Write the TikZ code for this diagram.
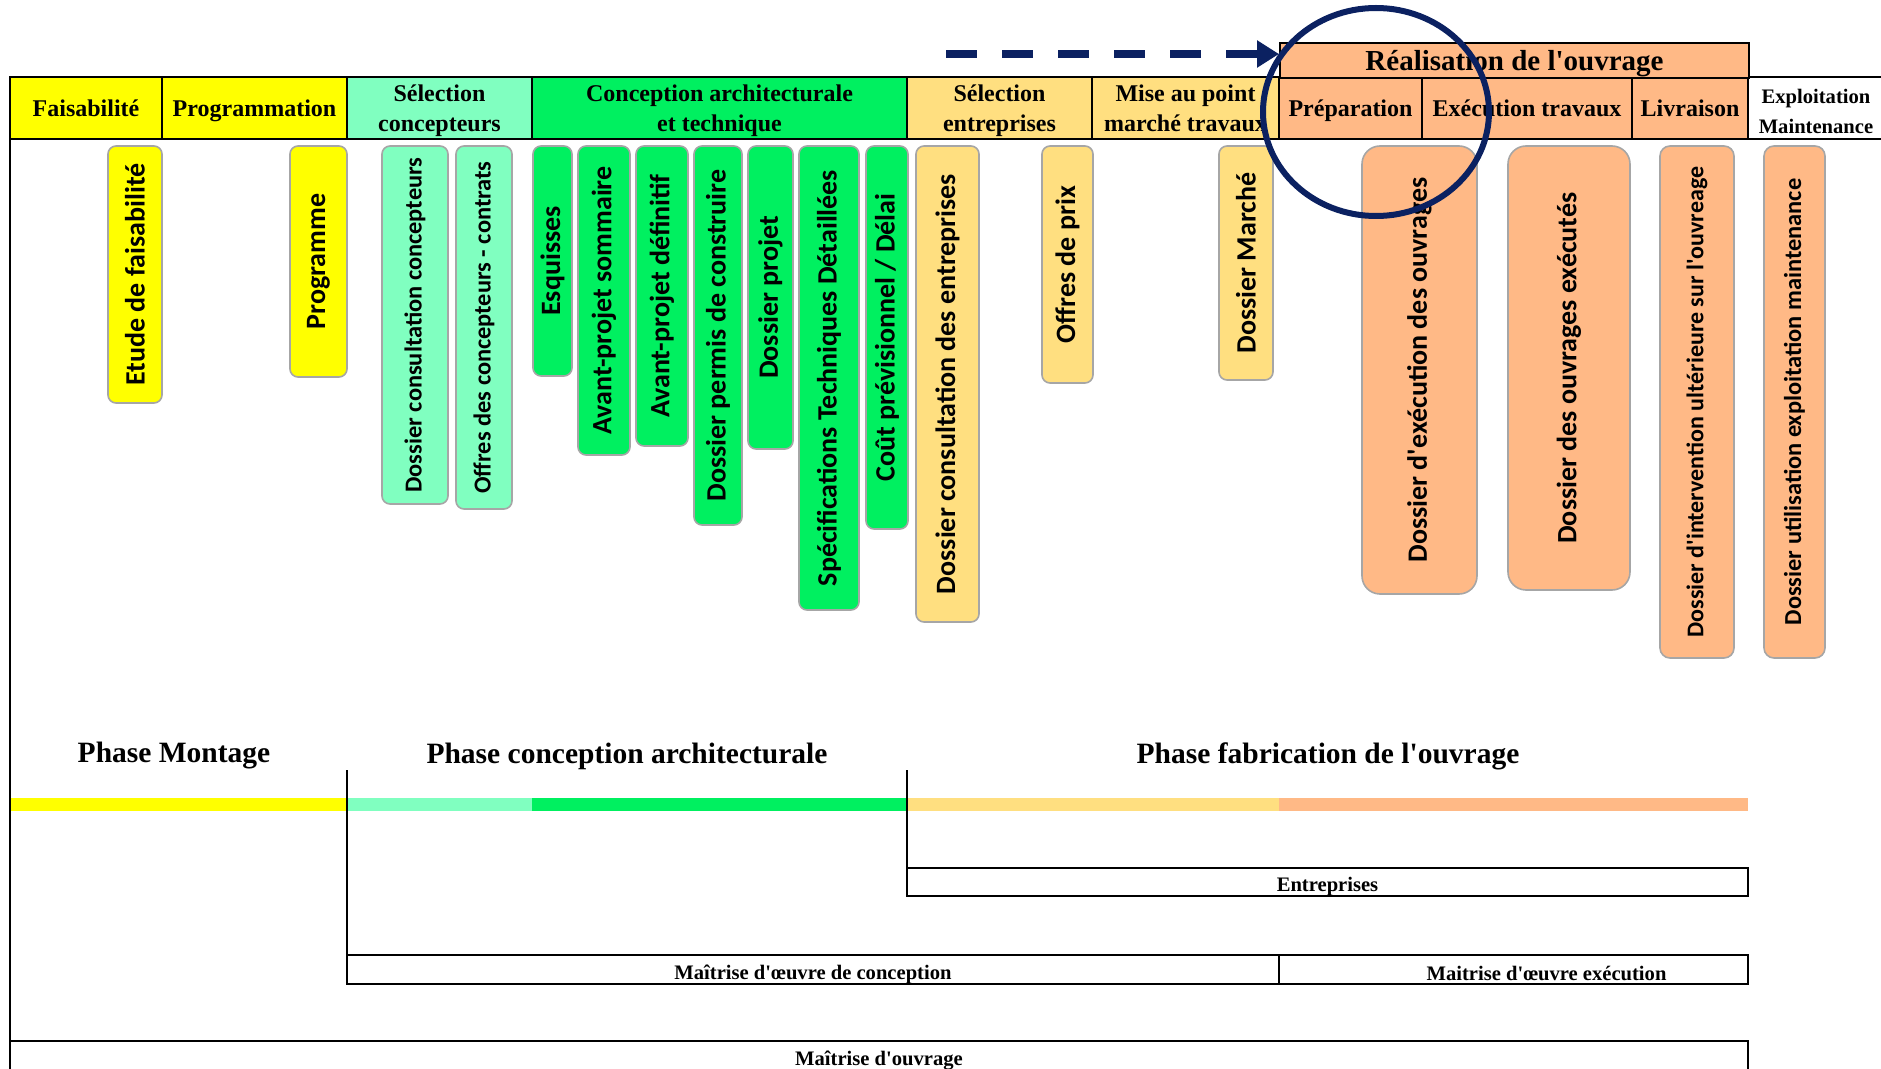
\documentclass[tikz,border=0pt]{standalone}
\usepackage{fontspec}
\setmainfont{Liberation Serif}
\newfontfamily\docfont{Carlito}
\usetikzlibrary{arrows.meta}

\definecolor{jaune}{HTML}{FFFF00}
\definecolor{vertclair}{HTML}{80FFC0}
\definecolor{vert}{HTML}{00F060}
\definecolor{beige}{HTML}{FFDF80}
\definecolor{saumon}{HTML}{FFB986}
\definecolor{marine}{HTML}{0B2161}
\definecolor{gristrait}{HTML}{A6A6A6}
\newcommand{\apo}{\textquotesingle}

\begin{document}
\begin{tikzpicture}[x=0.5pt, y=-0.5pt,
        cellule/.style={draw=black, line width=1pt},
        entete/.style={font=\bfseries\fontsize{12}{15}\selectfont, align=center, text depth=0pt},
        doc/.style={draw=gristrait, line width=0.8pt},
        titre/.style={font=\bfseries\fontsize{14.75}{17}\selectfont},
        acteur/.style={font=\bfseries\fontsize{10.3}{15}\selectfont, align=center}]
        \useasboundingbox (0,0) rectangle (1881,1069);
        % en-tête
        \foreach \xa/\xb/\coul/\nom/\texte in {10/162/jaune/faisabilite/Faisabilité,
                162/347/jaune/programmation/Programmation,
                347/532/vertclair/selconc/Sélection\\concepteurs,
                532/907/vert/conception/Conception architecturale\\et technique,
                907/1092/beige/selent/Sélection\\entreprises,
                1092/1279/beige/miseaupoint/Mise au point\\marché travaux,
                1279/1422/saumon/preparation/Préparation,
                1422/1632/saumon/execution/Exécution travaux,
                1632/1748/saumon/livraison/Livraison}
            \draw[cellule, fill=\coul] (\xa,77) rectangle (\xb,139) node[midway, entete] (\nom) {\texte};
        \draw[cellule] (1748,77) rectangle (1884,139) node[midway, acteur, yshift=-1.5pt] (exploitation) {Exploitation\\Maintenance};
        \node[cellule, fill=saumon, entete, font=\bfseries\fontsize{14.5}{15}\selectfont, inner sep=0, anchor=north west,
            minimum width=234.5pt, minimum height=17.5pt] (realisation) at (1279,42) {Réalisation de l\apo ouvrage};
        % documents
        \foreach \xa/\xb/\yb/\coul/\taille/\arrondi/\nom/\texte in {108/162/403/jaune/14/4pt/etude/Etude de faisabilité,
                290/347/377/jaune/14/4pt/programme/Programme,
                382/448/504/vertclair/12.2/4pt/dcc/Dossier consultation concepteurs,
                456/512/509/vertclair/12.2/4pt/offconc/Offres des concepteurs - contrats,
                533/572/376/vert/14/4pt/esquisses/Esquisses,
                578/630/455/vert/14/4pt/aps/Avant-projet sommaire,
                636/688/446/vert/14/4pt/apd/Avant-projet définitif,
                694/742/525/vert/14/4pt/permis/Dossier permis de construire,
                748/793/449/vert/14/4pt/projet/Dossier projet,
                799/859/610/vert/14/4pt/std/Spécifications Techniques Détaillées,
                866/908/529/vert/14/4pt/cout/{Coût prévisionnel / Délai},
                916/979/622/beige/14/4pt/dce/Dossier consultation des entreprises,
                1042/1093/383/beige/14/4pt/offprix/Offres de prix,
                1219/1273/380/beige/14/4pt/marche/Dossier Marché,
                1362/1477/594/saumon/14/9pt/deo/Dossier d\apo exécution des ouvrages,
                1508/1630/590/saumon/14/9pt/doe/Dossier des ouvrages exécutés,
                1660/1734/658/saumon/12/5pt/diuo/Dossier d\apo intervention ultérieure sur l\apo ouvreage,
                1764/1825/658/saumon/12.2/5pt/duem/Dossier utilisation exploitation maintenance}
            \draw[doc, fill=\coul, rounded corners=\arrondi] (\xa,146) rectangle (\xb,\yb)
                node[midway, rotate=90, font=\docfont\bfseries\fontsize{\taille}{\taille}\selectfont] (\nom) {\texte};
        % phases
        \node[titre] (montage) at (174,756) {Phase Montage};
        \node[titre] (concarchi) at (627,756) {Phase conception architecturale};
        \node[titre] (fabrication) at (1328,756) {Phase fabrication de l\apo ouvrage};
        \foreach \xa/\xb/\coul in {10/347/jaune, 347/532/vertclair, 532/907/vert, 907/1279/beige, 1279/1748/saumon}
            \fill[\coul] (\xa,798) rectangle (\xb,811);
        \draw[thick] (347,770) -- (347,955);
        \draw[thick] (907,770) -- (907,868);
        \draw[thick] (10,139) -- (10,1041);
        % intervenants
        \draw[thick] (907,868) rectangle (1748,896) node[midway, acteur, yshift=-2.4pt] (entreprises) {Entreprises};
        \draw[thick] (347,955) rectangle (1279,984) node[midway, acteur, yshift=-2.4pt] (moeconc) {Maîtrise d\apo œuvre de conception};
        \draw[thick] (1279,955) rectangle (1748,984) node[midway, acteur, xshift=16.5pt, yshift=-2pt] (moeexe) {Maitrise d\apo œuvre exécution};
        \draw[thick] (10,1041) rectangle (1748,1080) node[midway, acteur] (moa) {Maîtrise d\apo ouvrage};
        % flèche et cercle
        \coordinate (depart) at (946,54);
        \draw[marine, line width=4pt, dash pattern=on 15.5pt off 12.5pt, -{Triangle[length=11pt, width=13pt]}]
            (depart) -- (depart -| realisation.west);
        \draw[marine, line width=3pt] (1376,112) ellipse [x radius=113, y radius=104];
    \end{tikzpicture}
\end{document}
